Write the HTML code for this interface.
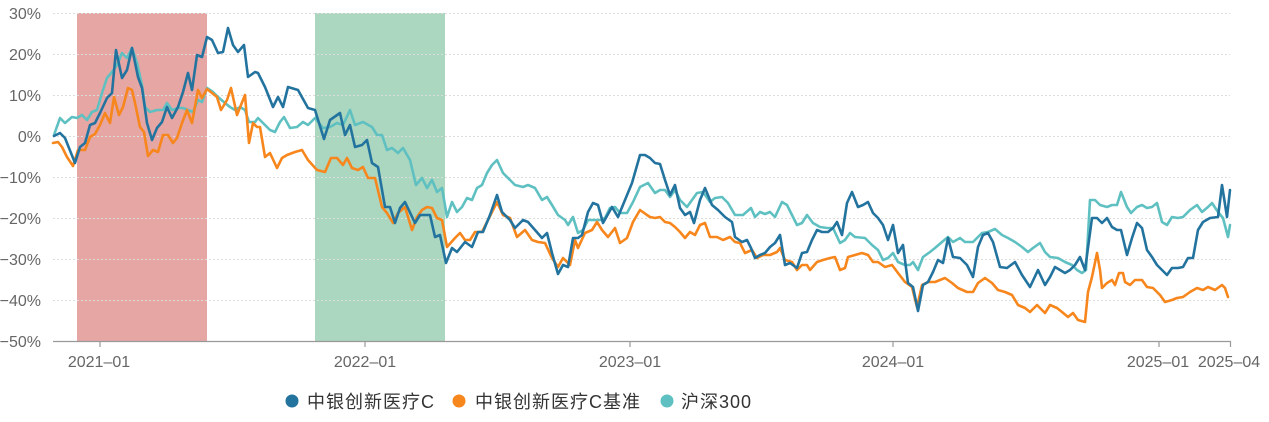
<!DOCTYPE html>
<html><head><meta charset="utf-8">
<style>
html,body{margin:0;padding:0;background:#fff;}
body{width:1269px;height:422px;overflow:hidden;position:relative;}
svg{position:absolute;left:0;top:0;}
.yl{font-family:"Liberation Sans",sans-serif;font-size:16px;fill:#666;}
.xl{font-family:"Liberation Sans",sans-serif;font-size:16px;fill:#666;}
.lg{font-family:"Liberation Sans","Noto Sans CJK SC",sans-serif;font-size:18px;fill:#333;letter-spacing:1px;}
</style></head>
<body>
<svg width="1269" height="422" viewBox="0 0 1269 422" xmlns="http://www.w3.org/2000/svg">
<rect x="77" y="13" width="130" height="328" fill="#e6a6a4"/>
<rect x="315" y="13" width="130" height="328" fill="#abd6bf"/>
<g stroke="#dcdcdc" stroke-width="1" stroke-dasharray="2,2">
<line x1="53" y1="13.5" x2="1230" y2="13.5"/>
<line x1="53" y1="54.5" x2="1230" y2="54.5"/>
<line x1="53" y1="95.5" x2="1230" y2="95.5"/>
<line x1="53" y1="136.5" x2="1230" y2="136.5"/>
<line x1="53" y1="177.5" x2="1230" y2="177.5"/>
<line x1="53" y1="218.5" x2="1230" y2="218.5"/>
<line x1="53" y1="259.5" x2="1230" y2="259.5"/>
<line x1="53" y1="300.5" x2="1230" y2="300.5"/>
</g>
<g class="yl" text-anchor="end">
<text x="41" y="19">30%</text>
<text x="41" y="60">20%</text>
<text x="41" y="101">10%</text>
<text x="41" y="142">0%</text>
<text x="41" y="183">−10%</text>
<text x="41" y="224">−20%</text>
<text x="41" y="265">−30%</text>
<text x="41" y="306">−40%</text>
<text x="41" y="347">−50%</text>
</g>
<line x1="53" y1="341.5" x2="1231" y2="341.5" stroke="#999" stroke-width="1.2"/>
<g stroke="#999" stroke-width="1.2">
<line x1="100" y1="341" x2="100" y2="347"/>
<line x1="365" y1="341" x2="365" y2="347"/>
<line x1="630" y1="341" x2="630" y2="347"/>
<line x1="893" y1="341" x2="893" y2="347"/>
<line x1="1159" y1="341" x2="1159" y2="347"/>
<line x1="1230.5" y1="341" x2="1230.5" y2="347"/>
</g>
<g class="xl" text-anchor="middle">
<text x="99" y="367">2021–01</text>
<text x="365" y="367">2022–01</text>
<text x="630" y="367">2023–01</text>
<text x="893" y="367">2024–01</text>
<text x="1158" y="367">2025–01</text>
<text x="1229" y="367">2025–04</text>
</g>
<g fill="none" stroke-width="2.6" stroke-linejoin="round" stroke-linecap="round">
<polyline stroke="#5fc0c1" points="54,135 60,118 65,123 72,117 77,118 82,115 87,120 92,112 97,110 102,93 107,78 112,72 117,65 122,53 127,58 132,48 137,63 142,85 145,107 150,112 157,110 163,110 167,103 172,110 178,108 183,108 188,110 193,112 198,100 202,102 207,88 213,92 218,97 225,103 230,107 235,110 240,107 245,110 249,122 255,122 258,118 263,123 270,130 275,132 280,122 284,117 290,128 297,127 303,122 308,125 315,118 323,128 330,127 337,123 343,125 350,110 355,125 363,122 372,127 377,135 382,135 387,150 392,148 398,153 403,148 410,160 416,185 422,178 427,188 432,180 437,192 442,188 447,217 452,202 457,212 462,207 467,198 472,200 477,188 482,185 487,173 492,165 497,160 503,173 510,180 515,185 523,187 528,185 535,188 542,200 547,197 552,205 558,215 565,220 568,225 573,217 578,233 583,230 588,220 595,220 600,220 605,218 610,208 615,207 620,213 627,213 633,202 640,187 648,183 655,193 660,190 665,190 670,197 675,190 680,200 687,207 692,200 697,193 703,192 710,202 715,198 722,197 728,203 735,215 743,215 751,208 755,217 760,212 765,214 770,212 775,217 782,202 787,205 792,215 797,225 802,223 807,215 813,223 820,227 827,228 833,228 840,243 845,240 850,233 855,237 865,238 872,245 878,250 883,260 888,258 893,253 898,262 905,265 910,265 913,262 918,270 923,257 930,252 935,248 942,242 948,237 953,242 960,238 965,242 973,242 982,233 988,232 995,229 1002,235 1008,238 1015,242 1022,247 1028,252 1033,248 1040,243 1045,252 1050,257 1058,258 1065,262 1072,265 1077,270 1082,273 1086,270 1090,200 1095,200 1100,205 1107,207 1112,205 1117,205 1121,192 1127,207 1131,213 1137,207 1142,205 1147,208 1152,207 1157,203 1162,222 1167,225 1172,217 1178,218 1183,217 1190,210 1197,205 1202,212 1208,207 1212,203 1218,212 1223,218 1228,237 1230,225"/>
<polyline stroke="#f7861c" points="53,143 58,142 62,147 67,157 73,166 78,150 85,150 90,137 95,134 100,125 105,113 110,123 114,97 119,115 123,107 128,88 132,90 135,103 140,127 144,132 148,156 153,150 158,152 163,135 168,135 173,143 177,138 182,123 187,110 192,123 198,90 202,98 207,89 212,93 217,97 221,110 227,100 231,88 237,115 245,95 249,143 253,123 257,127 260,127 265,157 270,153 277,168 282,158 287,155 295,152 302,150 308,160 317,170 325,172 331,158 337,158 343,165 347,158 352,168 358,170 363,167 368,178 375,178 382,207 387,213 393,223 398,213 405,207 412,230 417,217 422,210 427,207 432,208 437,218 442,220 447,247 455,238 460,233 465,240 470,240 475,232 482,232 488,220 497,202 503,215 510,218 517,237 525,230 532,240 538,242 545,243 552,258 558,267 563,258 570,265 575,240 578,248 585,233 592,230 597,222 602,230 608,237 615,228 620,243 627,238 633,222 640,210 647,215 650,217 655,218 660,217 665,222 670,223 675,227 680,232 685,238 690,232 695,235 700,225 705,223 710,237 717,237 723,240 730,237 735,242 740,243 745,253 752,250 757,258 763,255 770,255 777,252 780,248 785,260 792,262 797,270 802,265 807,265 810,270 817,262 823,260 830,258 835,257 840,270 845,268 848,257 855,255 862,253 868,255 873,262 878,262 885,267 892,265 898,273 905,282 912,287 917,307 922,285 928,282 935,282 940,280 945,278 952,283 958,288 967,292 973,292 978,283 985,278 992,283 998,290 1005,292 1012,295 1018,305 1025,308 1030,312 1037,305 1045,313 1050,305 1057,308 1062,312 1068,317 1073,313 1078,320 1085,322 1088,292 1092,277 1097,253 1100,270 1102,288 1107,283 1112,280 1115,285 1119,273 1123,273 1125,282 1130,285 1135,280 1142,280 1147,287 1153,288 1160,295 1165,302 1172,300 1177,298 1183,297 1190,292 1197,288 1203,290 1208,287 1215,290 1222,285 1225,288 1228,297"/>
<polyline stroke="#23739f" points="54,136 60,133 65,138 75,163 80,147 85,143 90,125 95,123 100,113 107,98 112,93 116,50 122,78 127,70 132,48 138,77 142,88 147,123 152,140 157,128 162,122 167,107 172,118 178,107 183,92 188,73 192,90 197,55 202,57 207,37 212,40 218,53 223,52 228,28 233,45 238,52 244,45 248,77 255,72 258,73 265,87 273,107 278,97 283,107 288,87 298,90 308,108 315,110 324,139 330,120 340,113 345,135 350,125 355,147 362,145 367,140 372,163 378,167 385,207 390,207 395,223 400,208 405,202 415,223 420,215 430,215 435,237 440,235 446,263 452,248 457,252 465,242 472,247 478,232 483,232 490,215 497,195 502,212 510,220 515,228 523,220 528,222 535,230 542,238 547,233 552,253 558,274 563,265 568,267 573,238 578,238 582,235 588,212 593,203 598,205 603,223 612,207 618,217 625,200 632,183 640,155 645,155 650,158 655,163 660,164 665,180 670,195 675,185 680,208 685,215 690,212 694,223 700,200 705,188 712,205 718,210 725,217 732,222 735,237 742,242 747,240 751,248 755,258 760,255 765,253 770,247 775,243 780,235 785,265 790,263 797,268 802,253 807,252 812,240 817,230 822,232 828,232 833,228 837,222 842,235 847,203 852,192 858,207 863,205 868,202 873,213 878,218 883,225 888,240 893,225 898,253 903,245 908,283 913,287 918,311 923,285 928,282 933,272 938,260 943,263 948,238 953,257 960,258 967,265 973,277 978,247 983,235 988,233 993,242 1000,267 1007,268 1015,262 1022,275 1030,287 1038,270 1045,285 1050,277 1055,267 1060,270 1065,273 1070,270 1075,265 1080,257 1085,270 1092,218 1097,218 1102,223 1107,218 1112,227 1117,230 1121,230 1127,255 1132,238 1137,223 1142,228 1147,250 1152,257 1157,265 1162,270 1167,275 1172,268 1178,268 1183,267 1188,258 1193,258 1198,230 1203,222 1210,218 1218,217 1222,185 1227,217 1230,190"/>
</g>
<circle cx="292" cy="401" r="6.5" fill="#23739f"/>
<text class="lg" x="307" y="408">中银创新医疗C</text>
<circle cx="459" cy="401" r="6.5" fill="#f7861c"/>
<text class="lg" x="475" y="408">中银创新医疗C基准</text>
<circle cx="667" cy="401" r="6.5" fill="#5fc0c1"/>
<text class="lg" x="681" y="408">沪深300</text>
</svg>
</body></html>
